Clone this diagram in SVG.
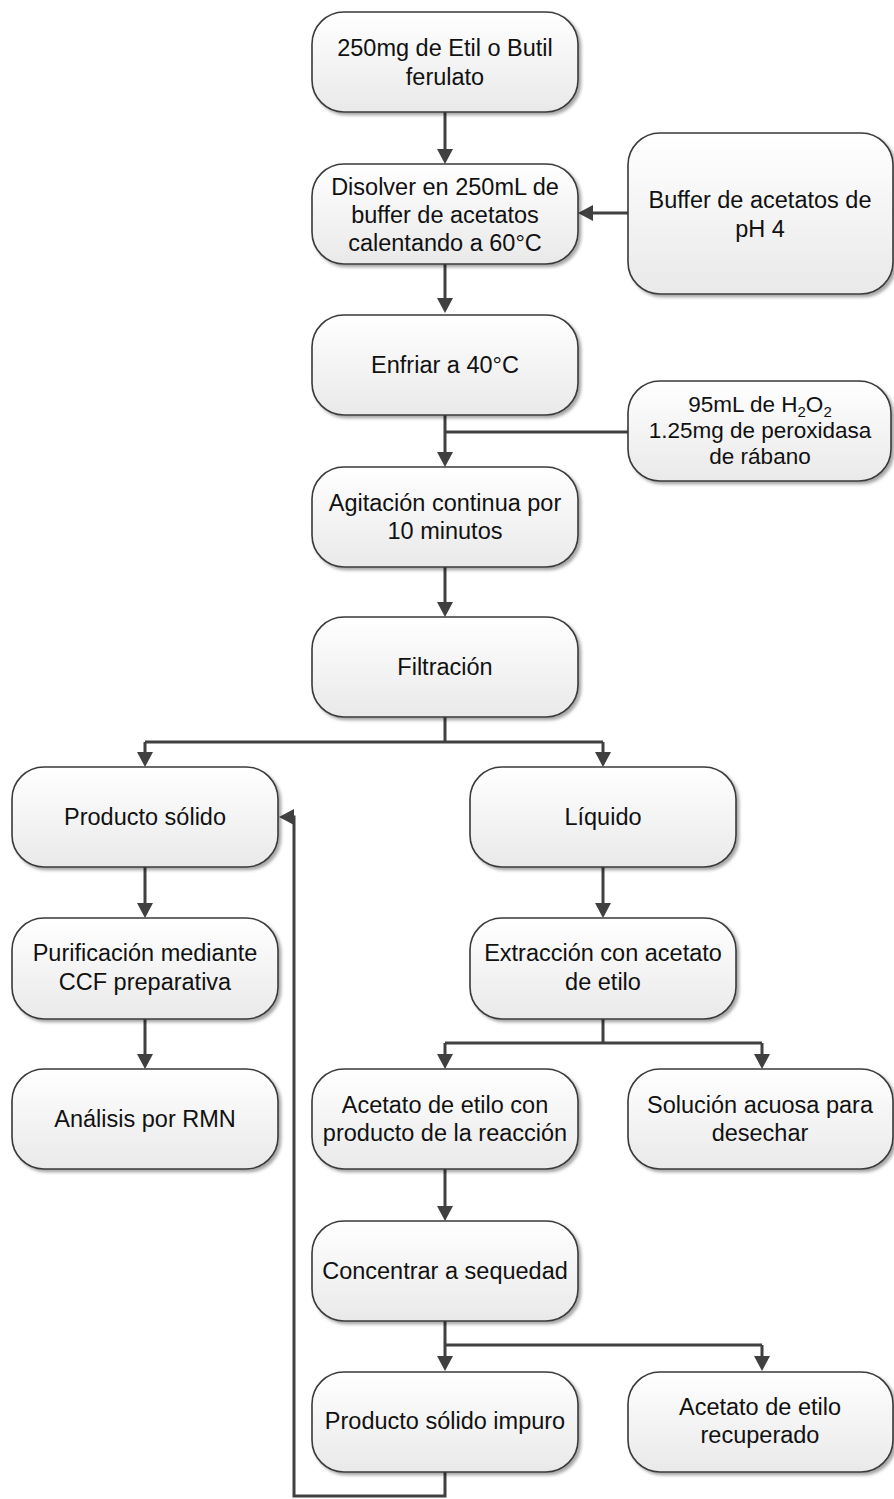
<svg xmlns="http://www.w3.org/2000/svg" width="894" height="1499" viewBox="0 0 894 1499">
<style>
.box{fill:url(#g);stroke:#3a3a3a;stroke-width:1.6;filter:url(#sh)}
.t{font-family:"Liberation Sans",Arial,sans-serif;font-size:23.5px;fill:#111;text-anchor:middle}
.s{font-size:22.5px}
.c{fill:none;stroke:#404040;stroke-width:3}
.a{marker-end:url(#ar)}
</style>
<defs>
<linearGradient id="g" x1="0" y1="0" x2="0" y2="1">
<stop offset="0" stop-color="#ffffff"/>
<stop offset="1" stop-color="#e9e9e9"/>
</linearGradient>
<filter id="sh" x="-10%" y="-10%" width="125%" height="130%">
<feDropShadow dx="2.5" dy="2.5" stdDeviation="1.5" flood-color="#000" flood-opacity="0.35"/>
</filter>
<marker id="ar" markerUnits="userSpaceOnUse" markerWidth="16" markerHeight="16" refX="5" refY="8" orient="auto">
<path d="M0,0 L15,8 L0,16 z" fill="#404040"/>
</marker>
</defs>
<g id="connectors">
<path class="c a" d="M445,112 V154"/>
<path class="c a" d="M628,213 H588"/>
<path class="c a" d="M445,264 V303"/>
<path class="c a" d="M445,415 V457"/>
<path class="c" d="M445,432 H628"/>
<path class="c a" d="M445,567 V607"/>
<path class="c" d="M445,717 V742 M145,742 H603"/>
<path class="c a" d="M145,742 V757"/>
<path class="c a" d="M603,742 V757"/>
<path class="c a" d="M145,867 V908"/>
<path class="c a" d="M145,1019 V1059"/>
<path class="c a" d="M603,867 V908"/>
<path class="c" d="M603,1019 V1043 M445,1043 H762"/>
<path class="c a" d="M445,1043 V1059"/>
<path class="c a" d="M762,1043 V1059"/>
<path class="c a" d="M445,1169 V1211"/>
<path class="c a" d="M445,1321 V1361"/>
<path class="c" d="M445,1345 H762"/>
<path class="c a" d="M762,1345 V1361"/>
<path class="c a" d="M445,1472 V1496 H294 V817 H289"/>
</g>
<g id="n1"><rect class="box" x="312" y="12" width="266" height="100" rx="32"/>
<text class="t" x="445" y="56">250mg de Etil o Butil</text><text class="t" x="445" y="85">ferulato</text></g>
<g id="n2"><rect class="box" x="312" y="164" width="266" height="100" rx="32"/>
<text class="t" x="445" y="195">Disolver en 250mL de</text><text class="t" x="445" y="223">buffer de acetatos</text><text class="t" x="445" y="251">calentando a 60°C</text></g>
<g id="n_buffer"><rect class="box" x="628" y="133" width="265" height="161" rx="32"/>
<text class="t" x="760" y="208">Buffer de acetatos de</text><text class="t" x="760" y="237">pH 4</text></g>
<g id="n3"><rect class="box" x="312" y="315" width="266" height="100" rx="32"/>
<text class="t" x="445" y="373">Enfriar a 40°C</text></g>
<g id="n_h2o2"><rect class="box" x="628" y="381" width="263" height="100" rx="32"/>
<text class="t s" x="760" y="412">95mL de H<tspan font-size="15" dy="5">2</tspan><tspan dy="-5">O</tspan><tspan font-size="15" dy="5">2</tspan></text>
<text class="t s" x="760" y="438">1.25mg de peroxidasa</text><text class="t s" x="760" y="464">de rábano</text></g>
<g id="n4"><rect class="box" x="312" y="467" width="266" height="100" rx="32"/>
<text class="t" x="445" y="511">Agitación continua por</text><text class="t" x="445" y="539">10 minutos</text></g>
<g id="n5"><rect class="box" x="312" y="617" width="266" height="100" rx="32"/>
<text class="t" x="445" y="675">Filtración</text></g>
<g id="n_solido"><rect class="box" x="12" y="767" width="266" height="100" rx="32"/>
<text class="t" x="145" y="825">Producto sólido</text></g>
<g id="n_liquido"><rect class="box" x="470" y="767" width="266" height="100" rx="32"/>
<text class="t" x="603" y="825">Líquido</text></g>
<g id="n_purif"><rect class="box" x="12" y="918" width="266" height="101" rx="32"/>
<text class="t" x="145" y="961">Purificación mediante</text><text class="t" x="145" y="990">CCF preparativa</text></g>
<g id="n_extr"><rect class="box" x="470" y="918" width="266" height="101" rx="32"/>
<text class="t" x="603" y="961">Extracción con acetato</text><text class="t" x="603" y="990">de etilo</text></g>
<g id="n_rmn"><rect class="box" x="12" y="1069" width="266" height="100" rx="32"/>
<text class="t" x="145" y="1127">Análisis por RMN</text></g>
<g id="n_acet"><rect class="box" x="312" y="1069" width="266" height="100" rx="32"/>
<text class="t" x="445" y="1113">Acetato de etilo con</text><text class="t" x="445" y="1141">producto de la reacción</text></g>
<g id="n_sol"><rect class="box" x="628" y="1069" width="265" height="100" rx="32"/>
<text class="t" x="760" y="1113">Solución acuosa para</text><text class="t" x="760" y="1141">desechar</text></g>
<g id="n_conc"><rect class="box" x="312" y="1221" width="266" height="100" rx="32"/>
<text class="t" x="445" y="1279">Concentrar a sequedad</text></g>
<g id="n_impuro"><rect class="box" x="312" y="1372" width="266" height="100" rx="32"/>
<text class="t" x="445" y="1429">Producto sólido impuro</text></g>
<g id="n_recup"><rect class="box" x="628" y="1372" width="265" height="100" rx="32"/>
<text class="t" x="760" y="1415">Acetato de etilo</text><text class="t" x="760" y="1443">recuperado</text></g>
</svg>
